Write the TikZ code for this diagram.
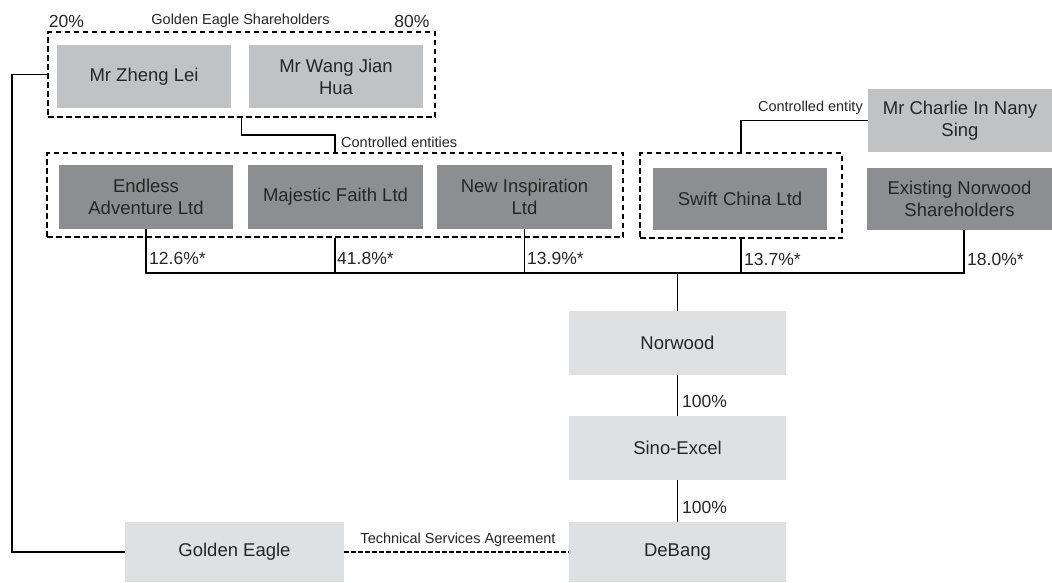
\documentclass[tikz,border=0pt]{standalone}
\usepackage{fontspec}
\setmainfont{Liberation Sans}
\definecolor{lightg}{HTML}{C1C2C4}
\definecolor{darkg}{HTML}{8D8E91}
\definecolor{paleg}{HTML}{DFE0E1}
\definecolor{txt}{HTML}{262626}
\begin{document}
\begin{tikzpicture}[x=1pt,y=-1pt,
  ent/.style={draw=none, inner sep=0pt, align=center, text=txt,
    font=\fontsize{18.5}{22}\selectfont},
  lightbox/.style={ent, fill=lightg},
  darkbox/.style={ent, fill=darkg},
  palebox/.style={ent, fill=paleg},
  grp/.style={draw=black, line width=1.8pt, dash pattern=on 5.5pt off 3.5pt, inner sep=0pt, fill=none},
  conn/.style={draw=black, line width=1.2pt},
  pct/.style={inner sep=0pt, anchor=west, text=txt, font=\fontsize{17.5}{20}\selectfont},
  small/.style={inner sep=0pt, text=txt, font=\fontsize{14.5}{17}\selectfont}
]
\useasboundingbox[fill=white] (0,0) rectangle (1052,582);

% group frames
\node[grp, minimum width=387pt, minimum height=85pt] (gtop) at (241.5,74.5) {};
\node[grp, minimum width=576pt, minimum height=84pt] (gmid) at (335,195) {};
\node[grp, minimum width=202pt, minimum height=85pt] (gswift) at (741,195.5) {};

% entities
\node[lightbox, minimum width=174pt, minimum height=63pt] (zheng) at (144,76.5) {Mr Zheng Lei};
\node[lightbox, minimum width=174pt, minimum height=63pt] (wang) at (336,76.5) {Mr Wang Jian\\Hua};
\node[lightbox, minimum width=184pt, minimum height=63pt] (charlie) at (960,120.5) {Mr Charlie In Nany\\Sing};

\node[darkbox, minimum width=174pt, minimum height=64pt] (endless) at (146,196.5) {Endless\\Adventure Ltd};
\node[darkbox, minimum width=175pt, minimum height=64pt] (majestic) at (335.5,196.5) {Majestic Faith Ltd};
\node[darkbox, minimum width=175pt, minimum height=64pt] (newinsp) at (524.5,196.5) {New Inspiration\\Ltd};
\node[darkbox, minimum width=174pt, minimum height=62pt] (swift) at (740,199) {Swift China Ltd};
\node[darkbox, minimum width=185pt, minimum height=62pt] (existing) at (959.5,199) {Existing Norwood\\Shareholders};

\node[palebox, minimum width=217pt, minimum height=64pt] (norwood) at (677.5,343) {Norwood};
\node[palebox, minimum width=217pt, minimum height=64pt] (sino) at (677.5,448) {Sino-Excel};
\node[palebox, minimum width=217pt, minimum height=60pt] (debang) at (677.5,552) {DeBang};
\node[palebox, minimum width=219pt, minimum height=60pt] (golden) at (234.5,552) {Golden Eagle};

% top labels
\node[pct, anchor=center] (p20) at (66.5,21) {20\%};
\node[small] (ges) at (240.5,21) {Golden Eagle Shareholders};
\node[pct, anchor=center] (p80) at (412,21) {80\%};

% connectors
\coordinate (lft) at (12,552);
\draw[conn] (gtop.west) -| (lft) -- (golden.west);
\draw[conn] (gtop.south) -- ++(0,17) -| (gmid.north);
\node[small, anchor=west] (ce) at (341,142) {Controlled entities};
\draw[conn] (charlie.west) -| (gswift.north);
\node[small, anchor=east] (cey) at (863,108) {Controlled entity};

\coordinate (bus) at (678,273);
\draw[conn] (endless.south) |- ([xshift=4.5pt]existing.south |- bus) -- ([xshift=4.5pt]existing.south);
\draw[conn] (gmid.south) -- (gmid.south |- bus);
\draw[conn] (newinsp.south) -- (newinsp.south |- bus);
\draw[conn] (gswift.south) -- (gswift.south |- bus);
\draw[conn] (norwood.north |- bus) -- (norwood.north);

\node[pct] (l1) at (149,258) {12.6\%*};
\node[pct] (l2) at (337,258) {41.8\%*};
\node[pct] (l3) at (527,258) {13.9\%*};
\node[pct] (l4) at (744,259) {13.7\%*};
\node[pct] (l5) at (967,259) {18.0\%*};

\draw[conn] (norwood.south) -- (sino.north);
\node[pct] (h1) at (682,401) {100\%};
\draw[conn] (sino.south) -- (debang.north);
\node[pct] (h2) at (682,507) {100\%};

\draw[draw=black, line width=1.6pt, dash pattern=on 4.5pt off 2.5pt] (golden.east) -- (debang.west);
\node[small] (tsa) at (458,540) {Technical Services Agreement};
\end{tikzpicture}
\end{document}
